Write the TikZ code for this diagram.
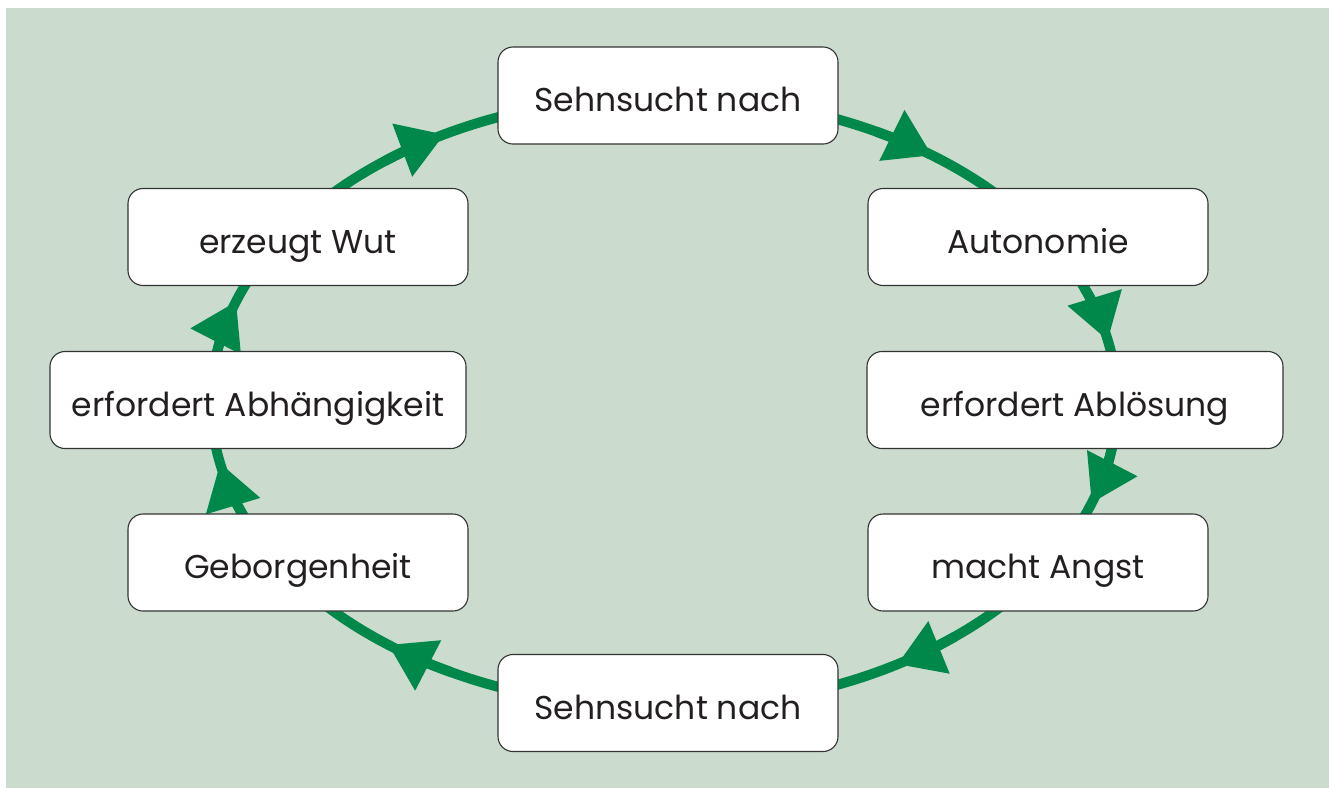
\documentclass[tikz,border=0pt]{standalone}
\usepackage{fontspec}
\setmainfont{Poppins}
\usetikzlibrary{arrows.meta}
\definecolor{bg}{RGB}{203,220,207}
\definecolor{cyc}{RGB}{0,135,74}
\definecolor{txt}{RGB}{35,31,32}
\begin{document}
\begin{tikzpicture}[x=1pt,y=-1pt,
 box/.style={draw=black!80, line width=1.1pt, fill=white, rounded corners=15pt, minimum width=340pt, minimum height=97pt, inner sep=0pt, text height=32pt, text depth=0pt, font=\fontsize{33}{40}\selectfont, text=txt},
 wide/.style={minimum width=416pt},
 cyclearc/.style={draw=cyc, line width=10pt},
 cyctip/.style={cyclearc, -{Triangle[length=45pt,width=54pt]}},
]
\useasboundingbox (0,0) rectangle (1329,788);
\fill[bg] (6,8) rectangle (1329,788);
\coordinate (c) at (664,402);
\draw[cyclearc] (c) ellipse [x radius=453, y radius=306];
\foreach \s/\m in {-62/-53.7, -22/-11.6, 8/19.3, 50/59, 118/127.5, 158/168.5, 189/199.2, 232/241} {
  \draw[cyctip] ([shift={(c)}]\s:453 and 306) arc[start angle=\s, end angle=\m, x radius=453, y radius=306];
}
\node[box] (top) at (668,95.5) {Sehnsucht nach};
\node[box] (auto) at (1038,237) {Autonomie};
\node[box,wide] (abl) at (1075,400) {erfordert Ablösung};
\node[box] (angst) at (1038,562.5) {macht Angst};
\node[box] (bot) at (668,703) {Sehnsucht nach};
\node[box] (gebor) at (298,562.5) {Geborgenheit};
\node[box,wide] (abh) at (258,400) {erfordert Abhängigkeit};
\node[box] (wut) at (298,237) {erzeugt Wut};
\end{tikzpicture}
\end{document}
